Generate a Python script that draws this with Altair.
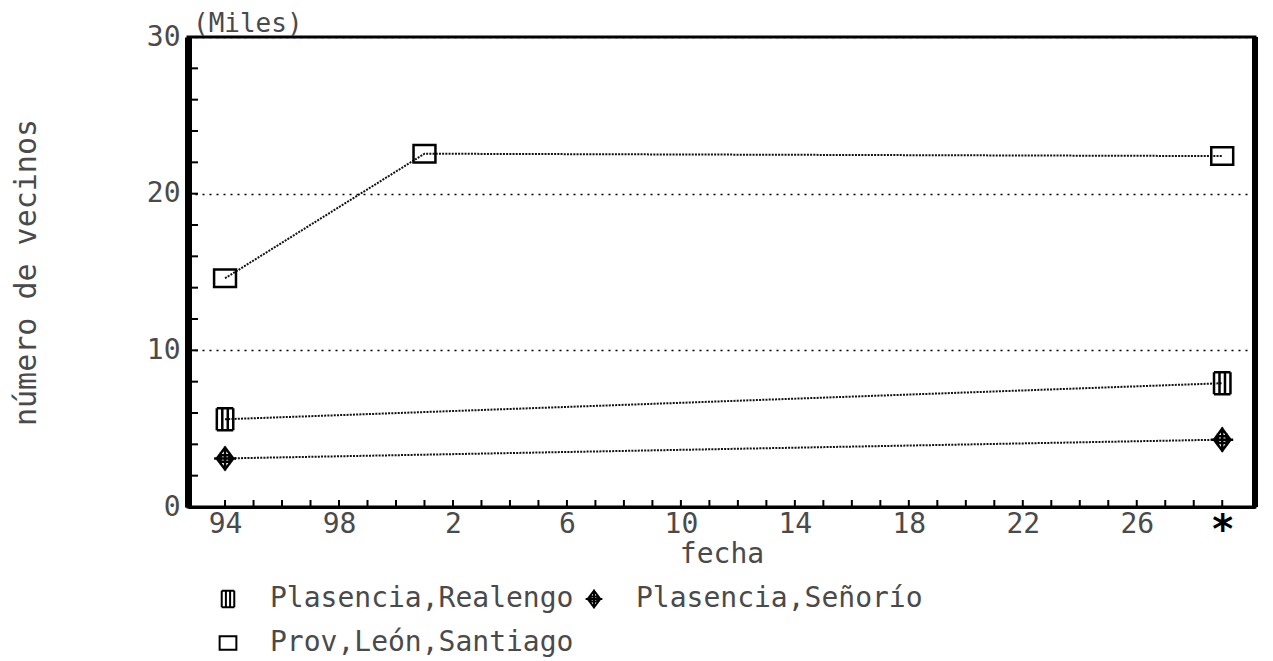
import altair as alt
import pandas as pd

# ---- data ----
series_names = ["Plasencia,Realengo", "Plasencia,Señorío", "Prov,León,Santiago"]
realengo_years = [1494, 1529]
realengo_vals = [5.6, 7.9]
senorio_years = [1494, 1529]
senorio_vals = [3.1, 4.3]
leon_years = [1494, 1501, 1529]
leon_vals = [14.6, 22.55, 22.4]

x_label_years = [1494, 1498, 1502, 1506, 1510, 1514, 1518, 1522, 1526, 1529]
y_label_values = [0, 10, 20, 30]
x_minor_ticks = [1494, 1495, 1496, 1497, 1498, 1499, 1500, 1501, 1502, 1503, 1504, 1505,
                 1506, 1507, 1508, 1509, 1510, 1511, 1512, 1513, 1514, 1515, 1516, 1517,
                 1518, 1519, 1520, 1521, 1522, 1523, 1524, 1525, 1526, 1527, 1528, 1529]
y_minor_ticks = [0, 2, 4, 6, 8, 10, 12, 14, 16, 18, 20, 22, 24, 26, 28, 30]
unit_label = ["(Miles)"]

rows = []
for yr, v in zip(realengo_years, realengo_vals):
    rows.append({"serie": series_names[0], "año": yr, "vecinos": v})
for yr, v in zip(senorio_years, senorio_vals):
    rows.append({"serie": series_names[1], "año": yr, "vecinos": v})
for yr, v in zip(leon_years, leon_vals):
    rows.append({"serie": series_names[2], "año": yr, "vecinos": v})
df = pd.DataFrame(rows)

FONT = "DejaVu Sans Mono"
TXT = "#4a4a4a"
W, H = 1067, 470

xscale = alt.Scale(domain=[1492.7, 1530.15], nice=False, zero=False)
yscale = alt.Scale(domain=[0, 30], nice=False)

shape_paths = [
    "M-0.75,-1V1M-0.25,-1V1M0.25,-1V1M0.75,-1V1M-0.75,-1H0.75M-0.75,1H0.75",
    "M0,-1L0.75,0L0,1L-0.75,0Z M-1,0H1 M0,-1.1V1.1 M-0.4,-0.55V0.55 M0.4,-0.55V0.55 M-0.55,-0.3H0.55 M-0.55,0.3H0.55",
    "M-1,-0.8H1V0.8H-1Z",
]

x_axis = alt.Axis(
    values=x_label_years,
    labelExpr="datum.value == 1529 ? '*' : '' + (datum.value % 100)",
    ticks=False, grid=False,
    domain=True, domainColor="black", domainWidth=3,
    labelFont={"condition": {"test": "datum.value == 1529", "value": "DejaVu Sans"}, "value": FONT},
    labelFontSize={"condition": {"test": "datum.value == 1529", "value": 40}, "value": 28},
    labelPadding=3,
    labelColor={"condition": {"test": "datum.value == 1529", "value": "black"}, "value": TXT},
    labelFontWeight={"condition": {"test": "datum.value == 1529", "value": "bold"}, "value": "normal"},
    labelFlush=False,
    title="fecha", titleFont=FONT, titleFontSize=28, titleFontWeight="normal",
    titleColor=TXT, titleY=47, titleBaseline="middle",
)
y_axis = alt.Axis(
    values=y_label_values, ticks=False,
    domain=True, domainColor="black", domainWidth=7,
    grid=True, gridDash=[2, 5], gridColor="black", gridWidth=1.5,
    labelFont=FONT, labelFontSize=28, labelColor=TXT, labelPadding=8,
    title="número de vecinos", titleFont=FONT, titleFontSize=30,
    titleFontWeight="normal", titleColor=TXT,
    titleX=-162, titleY=235, titleAngle=-90, titleAlign="center", titleBaseline="middle",
)

base = alt.Chart(df)

lines = base.mark_line(color="#111", strokeWidth=2, strokeDash=[2, 1.2]).encode(
    x=alt.X("año:Q", scale=xscale, axis=x_axis),
    y=alt.Y("vecinos:Q", scale=yscale, axis=y_axis),
    detail="serie:N",
)

points = base.mark_point(filled=False, color="black", strokeWidth=2.5, size=480, opacity=1).encode(
    x=alt.X("año:Q", scale=xscale),
    y=alt.Y("vecinos:Q", scale=yscale),
    shape=alt.Shape(
        "serie:N",
        scale=alt.Scale(domain=series_names, range=shape_paths),
        legend=alt.Legend(
            title=None, orient="none", legendX=26, legendY=548,
            columns=2, direction="horizontal",
            symbolSize=280, symbolStrokeWidth=2, symbolStrokeColor="black",
            labelFont=FONT, labelFontSize=28, labelColor=TXT, labelLimit=600,
            labelOffset=28, columnPadding=6, rowPadding=16,
        ),
    ),
)

xticks = alt.Chart(pd.DataFrame({"t": x_minor_ticks})).mark_rule(color="black", strokeWidth=2).encode(
    x=alt.X("t:Q", scale=xscale), y=alt.value(H), y2=alt.value(H - 7)
)
yticks = alt.Chart(pd.DataFrame({"t": y_minor_ticks})).mark_rule(color="black", strokeWidth=2).encode(
    y=alt.Y("t:Q", scale=yscale), x=alt.value(0), x2=alt.value(10)
)
right_border = alt.Chart(pd.DataFrame({"t": [0]})).mark_rule(color="black", strokeWidth=6).encode(
    x=alt.value(W), y=alt.value(0), y2=alt.value(H)
)
unit_text = alt.Chart(pd.DataFrame({"t": unit_label})).mark_text(
    align="left", baseline="middle", font=FONT, fontSize=26, color=TXT
).encode(text="t:N", x=alt.value(5), y=alt.value(-13))

chart = alt.layer(lines, xticks, yticks, right_border, points, unit_text).properties(
    width=W, height=H,
    padding={"left": 180, "top": 29, "right": 10, "bottom": 150},
    autosize=alt.AutoSizeParams(type="none"),
).configure_view(stroke="black", strokeWidth=3)

chart.save("out.html", embed_options={"renderer": "svg", "actions": False})
